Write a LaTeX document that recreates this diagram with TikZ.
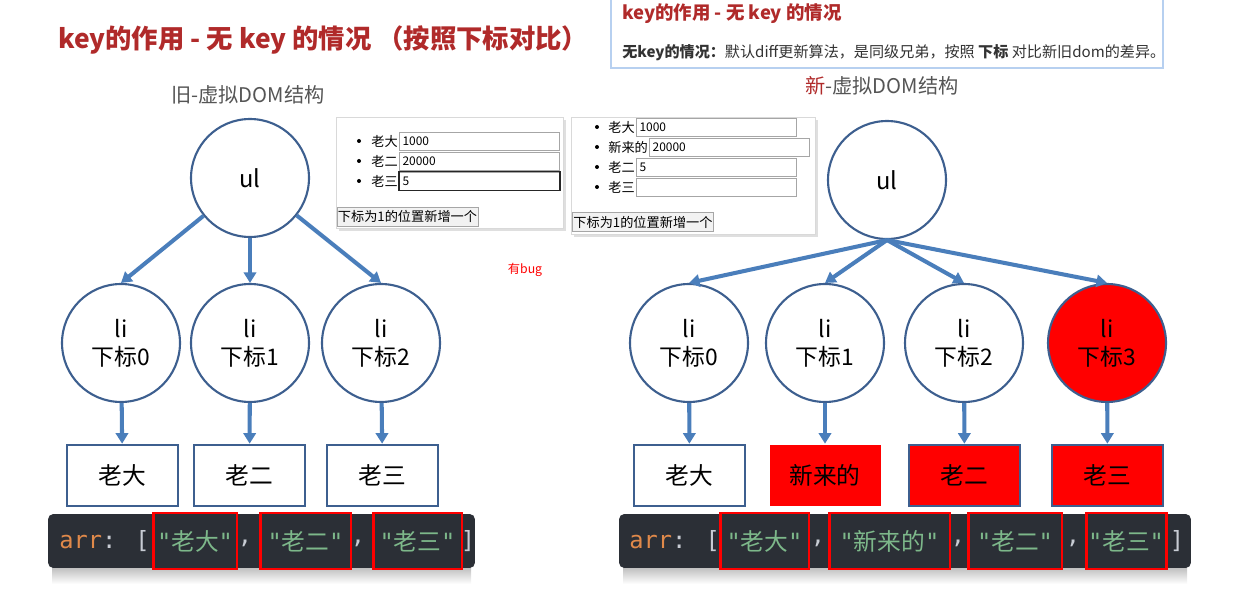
\documentclass[tikz,border=0pt]{standalone}
\usepackage{fontspec}
\setmainfont{Noto Sans CJK SC}
\newfontfamily\codefont{DejaVu Sans Mono}
\usetikzlibrary{arrows.meta,positioning}
\definecolor{titlered}{HTML}{B02A2A}
\definecolor{nodeblue}{HTML}{3D5F8F}
\definecolor{arrowblue}{HTML}{4A7EBB}
\definecolor{codebg}{HTML}{2B2F36}
\definecolor{codeorange}{HTML}{E0894A}
\definecolor{codegreen}{HTML}{7DB88A}
\definecolor{codegray}{HTML}{C8CCD4}
\definecolor{tipblue}{HTML}{B7D0F0}
\definecolor{labelgray}{HTML}{555555}

\begin{document}
\begin{tikzpicture}[x=0.02cm,y=-0.02cm,
  vnode/.style={circle,draw=nodeblue,line width=1.2pt,minimum size=2.36cm,inner sep=0pt,align=center,font=\fontsize{13}{16}\selectfont},
  vbox/.style={draw=nodeblue,line width=1.5pt,minimum width=2.22cm,minimum height=1.22cm,inner sep=0pt,font=\fontsize{13.5}{15}\selectfont},
  link/.style={-{Triangle[width=7pt,length=6pt]},arrowblue,line width=2.3pt},
  shot/.style={draw=gray!30,fill=white,inner sep=0pt},
  inbox/.style={draw=gray!70,line width=0.5pt,minimum height=0.36cm,inner ysep=0pt,inner xsep=0.06cm,text width=3.08cm,align=left,font=\fontsize{6.8}{7}\selectfont},
  shotlabel/.style={inner sep=0pt,font=\fontsize{7.5}{8}\selectfont},
  bullet/.style={circle,fill=black,minimum size=0.08cm,inner sep=0pt},
  button/.style={draw=gray!70,fill=gray!10,line width=0.5pt,minimum width=2.82cm,minimum height=0.38cm,inner sep=0pt,font=\fontsize{7.5}{8}\selectfont},
  codebar/.style={fill=codebg,rounded corners=3pt,minimum height=1.08cm,inner sep=0pt},
  codetext/.style={inner sep=0pt,text=codegray,font=\codefont\fontsize{13.5}{14}\selectfont},
  strbox/.style={draw=red,line width=1.7pt,minimum height=1.12cm,inner sep=0pt,text=codegreen,font=\fontsize{13.5}{14}\selectfont}]
\useasboundingbox (0,0) rectangle (1254,597);

% titles
\node[anchor=west,inner sep=0pt,text=titlered,font=\bfseries\fontsize{15}{18}\selectfont] (title) at (58,40) {key的作用 - 无 key 的情况 （按照下标对比）};
\draw[tipblue,fill=white,line width=1pt] (611,-4) rectangle (1163,68);
\node[anchor=west,inner sep=0pt,text=titlered,font=\bfseries\fontsize{10.5}{12}\selectfont] (notetitle) at (622,14) {key的作用 - 无 key 的情况};
\node[anchor=west,inner sep=0pt,text=black!80,font=\fontsize{8.6}{10}\selectfont] (notetext) at (622,53) {\textbf{无key的情况：}默认diff更新算法，是同级兄弟，按照 \textbf{下标} 对比新旧dom的差异。};
\node[text=labelgray,font=\fontsize{11.5}{13}\selectfont] (oldlabel) at (248,95) {旧-虚拟DOM结构};
\node[text=labelgray,font=\fontsize{11.5}{13}\selectfont] (newlabel) at (882,86) {\textcolor{titlered}{新}-虚拟DOM结构};

% old tree
\node[vnode,font=\fontsize{13.5}{16}\selectfont] (lul) at (250,178) {ul};
\node[vnode] (lli0) at (121,343) {li\\下标0};
\node[vnode] (lli1) at (250,343) {li\\下标1};
\node[vnode] (lli2) at (381,343) {li\\下标2};
\node[vbox] (lbox0) at (122.5,475.5) {老大};
\node[vbox] (lbox1) at (249.5,475.5) {老二};
\node[vbox] (lbox2) at (382.5,475.5) {老三};
\draw[link] (lul) -- (lli0.north);
\draw[link] (lul) -- (lli1);
\draw[link] (lul) -- (lli2.north);
\foreach \i in {0,1,2}
  \draw[link] (lli\i) -- (lbox\i);

% new tree
\node[vnode,font=\fontsize{13.5}{16}\selectfont] (rul) at (887,180) {ul};
\node[vnode] (rli0) at (689,343) {li\\下标0};
\node[vnode] (rli1) at (825,343) {li\\下标1};
\node[vnode] (rli2) at (964,343) {li\\下标2};
\node[vnode,fill=red] (rli3) at (1107,343) {li\\下标3};
\node[vbox] (rbox0) at (689.5,475.5) {老大};
\node[vbox,draw=none,fill=red] (rbox1) at (825,475.5) {新来的};
\node[vbox,fill=red] (rbox2) at (964.5,475.5) {老二};
\node[vbox,fill=red] (rbox3) at (1107.5,475.5) {老三};
\foreach \i in {0,...,3}{
  \draw[link] (rul.south) -- (rli\i.north);
  \draw[link] (rli\i) -- (rbox\i);
}

% screenshots
\fill[gray!25] (339,120) rectangle (566,231);
\node[shot,minimum width=4.54cm,minimum height=2.22cm] (lshot) at (449.5,172.5) {};
\foreach \name/\val [count=\i] in {老大/1000,老二/20000,老三/5}{
  \node[bullet] (lbul\i) at (359,121+20*\i) {};
  \node[shotlabel,anchor=west] (lname\i) at (371,121+20*\i) {\name};
  \node[inbox,right=0.02cm of lname\i] (lin\i) {\val};
}
\draw[black!85,line width=1pt] (lin3.north west) rectangle (lin3.south east);
\node[button] (lbtn) at (407.5,216.5) {下标为1的位置新增一个};

\fill[gray!25] (574,120) rectangle (818,237);
\node[shot,minimum width=4.88cm,minimum height=2.34cm] (rshot) at (693,175.5) {};
\foreach \name/\val [count=\i] in {老大/1000,新来的/20000,老二/5,老三/{}}{
  \node[bullet] (rbul\i) at (597,107+20*\i) {};
  \node[shotlabel,anchor=west] (rname\i) at (608,107+20*\i) {\name};
  \node[inbox,right=0.02cm of rname\i] (rin\i) {\val};
}
\node[button] (rbtn) at (643,222) {下标为1的位置新增一个};

\node[text=red,inner sep=0pt,font=\fontsize{7}{8}\selectfont] (bug) at (525,270) {有bug};

% code bars
\shade[top color=gray!55,bottom color=white] (52,566) rectangle (471,584);
\node[codebar,minimum width=8.54cm] (lcode) at (261.5,541) {};
\node[codetext,anchor=west] (larr) at (59,541) {\textcolor{codeorange}{arr}: [};
\node[strbox,minimum width=1.68cm] (ls0) at (195,541) {{\codefont"}老大{\codefont"}};
\node[strbox,minimum width=1.82cm] (ls1) at (305.5,541) {{\codefont"}老二{\codefont"}};
\node[strbox,minimum width=1.78cm] (ls2) at (417.5,541) {{\codefont"}老三{\codefont"}};
\node[codetext] (lc1) at (245,543) {,};
\node[codetext] (lc2) at (358,543) {,};
\node[codetext] (lend) at (468,541) {]};

\shade[top color=gray!55,bottom color=white] (623,566) rectangle (1187,584);
\node[codebar,minimum width=11.44cm] (rcode) at (905,541) {};
\node[codetext,anchor=west] (rarr) at (629,541) {\textcolor{codeorange}{arr}: [};
\node[strbox,minimum width=1.78cm] (rs0) at (764.5,541) {{\codefont"}老大{\codefont"}};
\node[strbox,minimum width=2.42cm] (rs1) at (889.5,541) {{\codefont"}新来的{\codefont"}};
\node[strbox,minimum width=1.88cm] (rs2) at (1015,541) {{\codefont"}老二{\codefont"}};
\node[strbox,minimum width=1.6cm] (rs3) at (1126,541) {{\codefont"}老三{\codefont"}};
\node[codetext] (rc1) at (818,543) {,};
\node[codetext] (rc2) at (958,543) {,};
\node[codetext] (rc3) at (1073,543) {,};
\node[codetext] (rend) at (1177,541) {]};
\end{tikzpicture}
\end{document}
